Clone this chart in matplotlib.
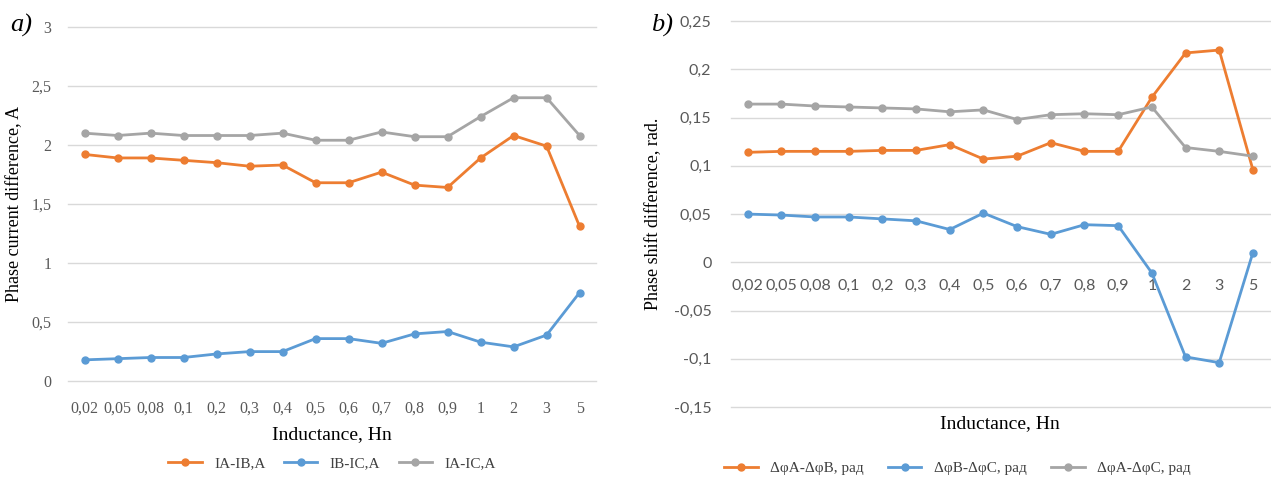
import numpy as np
import matplotlib.pyplot as plt
from matplotlib.ticker import FuncFormatter

# inductance categories (shown as labels, evenly spaced)
inductance = ["0,02", "0,05", "0,08", "0,1", "0,2", "0,3", "0,4", "0,5",
              "0,6", "0,7", "0,8", "0,9", "1", "2", "3", "5"]

# a) phase current differences, A
ia_ib = [1.92, 1.89, 1.89, 1.87, 1.85, 1.82, 1.83, 1.68,
         1.68, 1.77, 1.66, 1.64, 1.89, 2.08, 1.99, 1.31]
ib_ic = [0.18, 0.19, 0.20, 0.20, 0.23, 0.25, 0.25, 0.36,
         0.36, 0.32, 0.40, 0.42, 0.33, 0.29, 0.39, 0.75]
ia_ic = [2.10, 2.08, 2.10, 2.08, 2.08, 2.08, 2.10, 2.04,
         2.04, 2.11, 2.07, 2.07, 2.24, 2.40, 2.40, 2.08]

# b) phase shift differences, rad
dphi_ab = [0.114, 0.115, 0.115, 0.115, 0.116, 0.116, 0.122, 0.107,
           0.110, 0.124, 0.115, 0.115, 0.171, 0.217, 0.220, 0.096]
dphi_bc = [0.050, 0.049, 0.047, 0.047, 0.045, 0.043, 0.034, 0.051,
           0.037, 0.029, 0.039, 0.038, -0.011, -0.098, -0.104, 0.010]
dphi_ac = [0.164, 0.164, 0.162, 0.161, 0.160, 0.159, 0.156, 0.158,
           0.148, 0.153, 0.154, 0.153, 0.161, 0.119, 0.115, 0.110]

ORANGE, BLUE, GRAY = "#ED7D31", "#5B9BD5", "#A5A5A5"
SERIF = "Liberation Serif"
SANS = "Lato"

def comma(v, pos):
    s = ("%.2f" % v).rstrip("0").rstrip(".")
    if s in ("-0", ""):
        s = "0"
    return s.replace(".", ",")

def style_axes(ax):
    for s in ax.spines.values():
        s.set_visible(False)
    ax.grid(axis="y", color="#d9d9d9", lw=1.0)
    for g in ax.get_ygridlines():
        g.set_clip_on(False)
    ax.set_axisbelow(True)
    ax.tick_params(length=0)
    ax.yaxis.set_major_formatter(FuncFormatter(comma))

fig = plt.figure(figsize=(12.71, 4.8), dpi=100)
x = np.arange(len(inductance))
kw = dict(lw=2.0, marker="o", ms=5)

# ---- panel a ----
ax1 = fig.add_axes([0.0535, 0.206, 0.4155, 0.738])
ax1.plot(x, ia_ib, color=ORANGE, label="IA-IB,A", **kw)
ax1.plot(x, ib_ic, color=BLUE, label="IB-IC,A", **kw)
ax1.plot(x, ia_ic, color=GRAY, label="IA-IC,A", **kw)
ax1.set_xlim(-0.5, len(x) - 0.5)
ax1.set_ylim(0, 3)
ax1.set_yticks(np.arange(0, 3.01, 0.5))
style_axes(ax1)
ax1.set_xticks(x, inductance)
ax1.tick_params(axis="x", pad=14, labelsize=11.5, labelcolor="#595959")
ax1.tick_params(axis="y", pad=12, labelsize=11.5, labelcolor="#595959")
for t in ax1.get_xticklabels() + ax1.get_yticklabels():
    t.set_family(SERIF)
ax1.set_xlabel("Inductance, Hn", family=SERIF, fontsize=14, labelpad=7)
ax1.set_ylabel("Phase current difference, A", family=SERIF, fontsize=13, labelpad=6)
ax1.legend(loc="upper center", bbox_to_anchor=(0.5, -0.175), ncol=3, frameon=False,
           prop={"family": SERIF, "size": 11}, handlelength=2.2, columnspacing=1.2,
           labelcolor="#404040")
fig.text(0.008, 0.935, "a)", family=SERIF, style="italic", fontsize=19)

# ---- panel b ----
ax2 = fig.add_axes([0.575, 0.152, 0.424, 0.804])
ax2.plot(x, dphi_ab, color=ORANGE, label="ΔφA-ΔφB, рад", **kw)
ax2.plot(x, dphi_bc, color=BLUE, label="ΔφB-ΔφC, рад", **kw)
ax2.plot(x, dphi_ac, color=GRAY, label="ΔφA-ΔφC, рад", **kw)
ax2.set_xlim(-0.5, len(x) - 0.5)
ax2.set_ylim(-0.15, 0.25)
ax2.set_yticks(np.arange(-0.15, 0.251, 0.05))
style_axes(ax2)
ax2.spines["bottom"].set_position(("data", 0))
ax2.set_xticks(x, inductance)
ax2.tick_params(axis="x", pad=12, labelsize=11.5, labelcolor="#595959")
ax2.tick_params(axis="y", pad=14, labelsize=11.5, labelcolor="#595959")
for t in ax2.get_xticklabels() + ax2.get_yticklabels():
    t.set_family(SANS)
ax2.set_xlabel("Inductance, Hn", family=SERIF, fontsize=14, labelpad=4)
ax2.set_ylabel("Phase shift difference, rad.", family=SERIF, fontsize=13, labelpad=8)
ax2.xaxis.set_label_coords(0.5, -0.02)
ax2.legend(loc="upper center", bbox_to_anchor=(0.42, -0.105), ncol=3, frameon=False,
           prop={"family": SERIF, "size": 11}, handlelength=2.2, columnspacing=1.6,
           labelcolor="#404040")
fig.text(0.512, 0.935, "b)", family=SERIF, style="italic", fontsize=19)

fig.savefig("out.png", dpi=100, facecolor="w")
